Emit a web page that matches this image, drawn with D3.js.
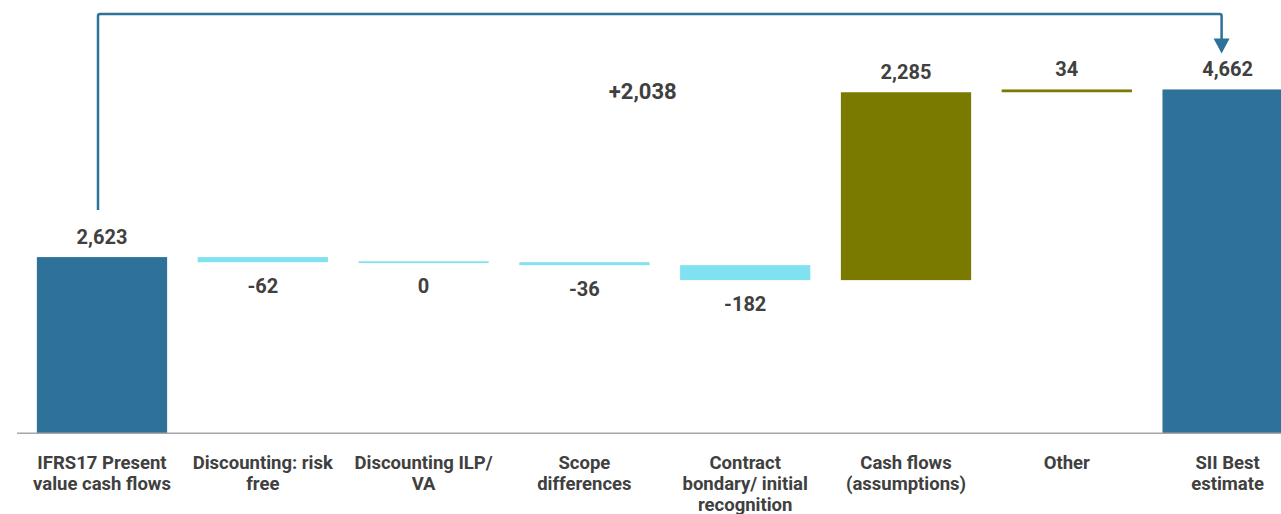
<!DOCTYPE html>
<html>
<head>
<meta charset="utf-8">
<script src="https://cdn.jsdelivr.net/npm/d3@7"></script>
<style>
  html, body { margin: 0; padding: 0; background: #ffffff; }
  svg { display: block; font-family: Roboto, "Noto Sans", sans-serif; }
</style>
</head>
<body>
<svg id="chart" width="1281" height="514"></svg>
<script>
// Bridge from IFRS17 present value of cash flows to the Solvency II best estimate
const categories = [
  "IFRS17 Present value cash flows",
  "Discounting: risk free",
  "Discounting ILP/ VA",
  "Scope differences",
  "Contract bondary/ initial recognition",
  "Cash flows (assumptions)",
  "Other",
  "SII Best estimate"
];
const categoryLines = [
  ["IFRS17 Present", "value cash flows"],
  ["Discounting: risk", "free"],
  ["Discounting ILP/", "VA"],
  ["Scope", "differences"],
  ["Contract", "bondary/ initial", "recognition"],
  ["Cash flows", "(assumptions)"],
  ["Other"],
  ["SII Best", "estimate"]
];
const values = [2623, -62, 0, -36, -182, 2285, 34, 4662];
const kinds  = ["total", "step", "step", "step", "step", "step", "step", "total"];
const valueLabels = ["2,623", "-62", "0", "-36", "-182", "2,285", "34", "4,662"];
// overall change between the two totals, as reported
const totalChangeLabel = "+2,038";

const colors = { total: "#2e7199", up: "#7a7a00", down: "#80e1f0" };
const textColor = "#404040";

const svg = d3.select("#chart");
const baseY = 433.3;

const x = d3.scaleBand()
  .domain(categories)
  .range([21.6, 1308])
  .paddingInner(0.19)
  .paddingOuter(0.095);

// value axis is cut off below 480 so the steps stay readable
const y = d3.scaleLinear().domain([480, 5750]).range([baseY, 0]);
const yFloor = y.domain()[0];

// Cumulative start/end for every bar
let running = 0;
const bars = categories.map((c, i) => {
  const v = values[i];
  let y0, y1;
  if (kinds[i] === "total") { y0 = yFloor; y1 = v; running = v; }
  else { y0 = running; y1 = running + v; running = y1; }
  return { cat: c, lines: categoryLines[i], value: v, label: valueLabels[i], kind: kinds[i], y0, y1 };
});

const bw = x.bandwidth();

function barColor(d) {
  if (d.kind === "total") return colors.total;
  return d.value > 0 ? colors.up : colors.down;
}

// Bars
svg.append("g").selectAll("rect")
  .data(bars)
  .join("rect")
  .attr("x", d => x(d.cat))
  .attr("width", bw)
  .attr("y", d => {
    const top = y(Math.max(d.y0, d.y1));
    const h = Math.abs(y(d.y0) - y(d.y1));
    return h < 1.8 ? top - 0.9 + h / 2 : top;
  })
  .attr("height", d => Math.max(1.8, Math.abs(y(d.y0) - y(d.y1))))
  .attr("fill", barColor);

// Baseline
svg.append("line")
  .attr("x1", 17).attr("x2", 1281)
  .attr("y1", baseY).attr("y2", baseY)
  .attr("stroke", "#a6a6a6")
  .attr("stroke-width", 1.5);

// Value labels
svg.append("g").selectAll("text")
  .data(bars)
  .join("text")
  .attr("x", d => x(d.cat) + bw / 2)
  .attr("y", d => {
    if (d.kind === "total" || d.value > 0) return y(Math.max(d.y0, d.y1)) - 13.5;
    return y(Math.min(d.y0, d.y1)) + 30.5;
  })
  .attr("text-anchor", "middle")
  .attr("font-size", 20)
  .attr("font-weight", 700)
  .attr("fill", textColor)
  .text(d => d.label);

// Category labels
const catG = svg.append("g").selectAll("text")
  .data(bars)
  .join("text")
  .attr("text-anchor", "middle")
  .attr("font-size", 18.5)
  .attr("font-weight", 700)
  .attr("fill", textColor);
catG.selectAll("tspan")
  .data(d => d.lines.map(l => ({ l, cx: x(d.cat) + bw / 2 })))
  .join("tspan")
  .attr("x", t => t.cx)
  .attr("y", (t, i) => 468.5 + i * 21.3)
  .text(t => t.l);

// Overall change connector from first total to last total
const first = bars[0], last = bars[bars.length - 1];
const sx = x(first.cat) + bw / 2 - 4;
const ex = x(last.cat) + bw / 2 - 6;
const topY = 14;
const startY = y(first.y1) - 47;
const tipY = y(last.y1) - 36;
const r = 2;
const path = d3.path();
path.moveTo(sx, startY);
path.lineTo(sx, topY + r);
path.quadraticCurveTo(sx, topY, sx + r, topY);
path.lineTo(ex - r, topY);
path.quadraticCurveTo(ex, topY, ex, topY + r);
path.lineTo(ex, tipY - 14);
svg.append("path")
  .attr("d", path.toString())
  .attr("fill", "none")
  .attr("stroke", colors.total)
  .attr("stroke-width", 2.5);
svg.append("path")
  .attr("d", `M${ex - 8},${tipY - 15} L${ex + 8},${tipY - 15} L${ex},${tipY} Z`)
  .attr("fill", colors.total);

svg.append("text")
  .attr("x", (sx + ex) / 2 - 17)
  .attr("y", 99)
  .attr("text-anchor", "middle")
  .attr("font-size", 22)
  .attr("font-weight", 700)
  .attr("fill", textColor)
  .text(totalChangeLabel);
</script>
</body>
</html>
